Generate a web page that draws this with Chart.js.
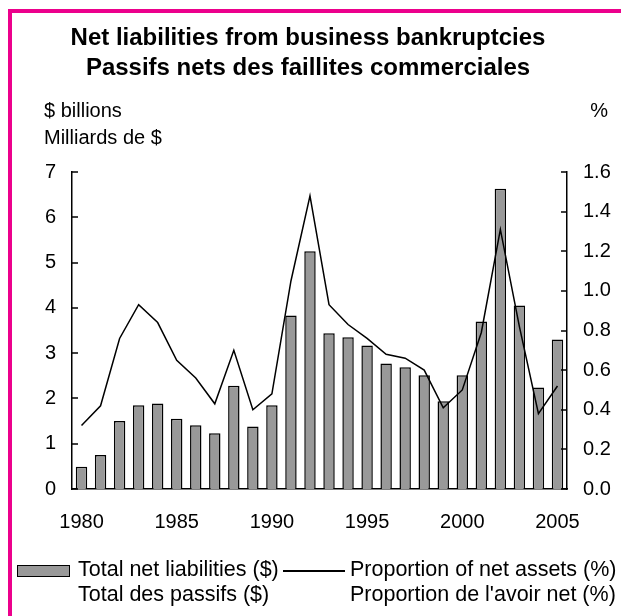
<!DOCTYPE html>
<html lang="en">
<head>
<meta charset="UTF-8">
<title>Net liabilities from business bankruptcies</title>
<script src="https://cdn.jsdelivr.net/npm/chart.js"></script>
<style>
  body{margin:0;background:#fff;font-family:"Liberation Sans",Arial,Helvetica,sans-serif;color:#000;overflow:hidden}
  .wrap{position:relative;width:621px;height:616px}
  .frame{position:absolute;left:8px;top:9px;width:700px;height:700px;border-left:4px solid #ec008c;border-top:4px solid #ec008c}
  canvas{position:absolute;left:0;top:0}
  .title{position:absolute;left:0;width:616px;top:22px;text-align:center;font-weight:bold;font-size:24px;line-height:30px}
  .unit{position:absolute;font-size:20px;line-height:27px;top:97px;white-space:nowrap}
  .leg{position:absolute;font-size:21.5px;line-height:25px;top:557px;white-space:nowrap}
  .swatch{position:absolute;left:17px;top:565px;width:51px;height:10px;background:#999;border:1.5px solid #000}
  .lineSw{position:absolute;left:283px;top:570px;width:62px;height:1.5px;background:#000}
</style>
</head>
<body>
<div class="wrap">
  <div class="frame"></div>
  <canvas id="chart" width="621" height="616"></canvas>
  <div class="title">Net liabilities from business bankruptcies<br>Passifs nets des faillites commerciales</div>
  <div class="unit" style="left:44px">$ billions<br>Milliards de $</div>
  <div class="unit" style="right:13px">%</div>
  <div class="swatch"></div>
  <div class="leg" style="left:78px">Total net liabilities ($)<br>Total des passifs ($)</div>
  <div class="lineSw"></div>
  <div class="leg" style="left:350px">Proportion of net assets (%)<br>Proportion de l'avoir net (%)</div>
</div>
<script>
// data
const years=[1980,1981,1982,1983,1984,1985,1986,1987,1988,1989,1990,1991,1992,1993,1994,1995,1996,1997,1998,1999,2000,2001,2002,2003,2004,2005];
// total net liabilities, $ billions (left axis)
const liabilities=[0.49,0.75,1.50,1.85,1.89,1.55,1.41,1.23,2.28,1.38,1.85,3.83,5.25,3.44,3.35,3.17,2.77,2.69,2.51,1.94,2.51,3.70,6.63,4.05,2.24,3.30];
// proportion of net assets, % (right axis)
const proportion=[0.32,0.42,0.76,0.93,0.84,0.65,0.56,0.43,0.70,0.40,0.48,1.05,1.48,0.93,0.83,0.76,0.68,0.66,0.60,0.41,0.50,0.79,1.31,0.82,0.38,0.52];
const leftTicks=[0,7,1];      // min, max, step
const rightTicks=[0,1.6,0.2];

const FONT={family:'"Liberation Sans", Arial, sans-serif',size:20};

// short tick marks pointing into the plot on both value axes
const inwardTicks={
  id:'inwardTicks',
  afterDraw(chart){
    const ctx=chart.ctx;
    ctx.save();
    ctx.strokeStyle='#000';
    ctx.lineWidth=1.5;
    ['y','y1'].forEach(id=>{
      const s=chart.scales[id];
      const x=id==='y'?s.right:s.left;
      const dir=id==='y'?1:-1;
      s.ticks.forEach((t,i)=>{
        const py=Math.round(s.getPixelForTick(i));
        ctx.beginPath();
        ctx.moveTo(x,py);
        ctx.lineTo(x+dir*6,py);
        ctx.stroke();
      });
    });
    ctx.restore();
  }
};

new Chart(document.getElementById('chart'),{
  data:{
    labels:years,
    datasets:[
      {type:'line',label:'Proportion of net assets (%)',data:proportion,yAxisID:'y1',
       borderColor:'#000',borderWidth:1.5,pointRadius:0,tension:0,order:0},
      {type:'bar',label:'Total net liabilities ($)',data:liabilities,yAxisID:'y',
       backgroundColor:'#999',borderColor:'#000',borderWidth:1.5,
       categoryPercentage:1,barPercentage:0.6,order:1}
    ]
  },
  options:{
    responsive:false,
    animation:false,
    devicePixelRatio:1,
    layout:{padding:{top:172,left:0,right:0,bottom:0}},
    plugins:{legend:{display:false},tooltip:{enabled:false}},
    scales:{
      x:{
        grid:{display:false},
        border:{display:true,color:'#000',width:1.5},
        ticks:{color:'#000',font:FONT,autoSkip:false,maxRotation:0,padding:13,
          callback(v){const y=this.getLabelForValue(v);return y%5===0?String(y):'';}},
        afterFit(s){s.height=127;}
      },
      y:{
        position:'left',min:leftTicks[0],max:leftTicks[1],
        grid:{display:false},
        border:{display:true,color:'#000',width:1.5},
        ticks:{stepSize:leftTicks[2],color:'#000',font:FONT,padding:8},
        afterFit(s){s.width=72;}
      },
      y1:{
        position:'right',min:rightTicks[0],max:rightTicks[1],
        grid:{display:false},
        border:{display:true,color:'#000',width:1.5},
        ticks:{stepSize:rightTicks[2],color:'#000',font:FONT,padding:8,
          callback:v=>Number(v).toFixed(1)},
        afterFit(s){s.width=54;}
      }
    }
  },
  plugins:[inwardTicks]
});
</script>
</body>
</html>
